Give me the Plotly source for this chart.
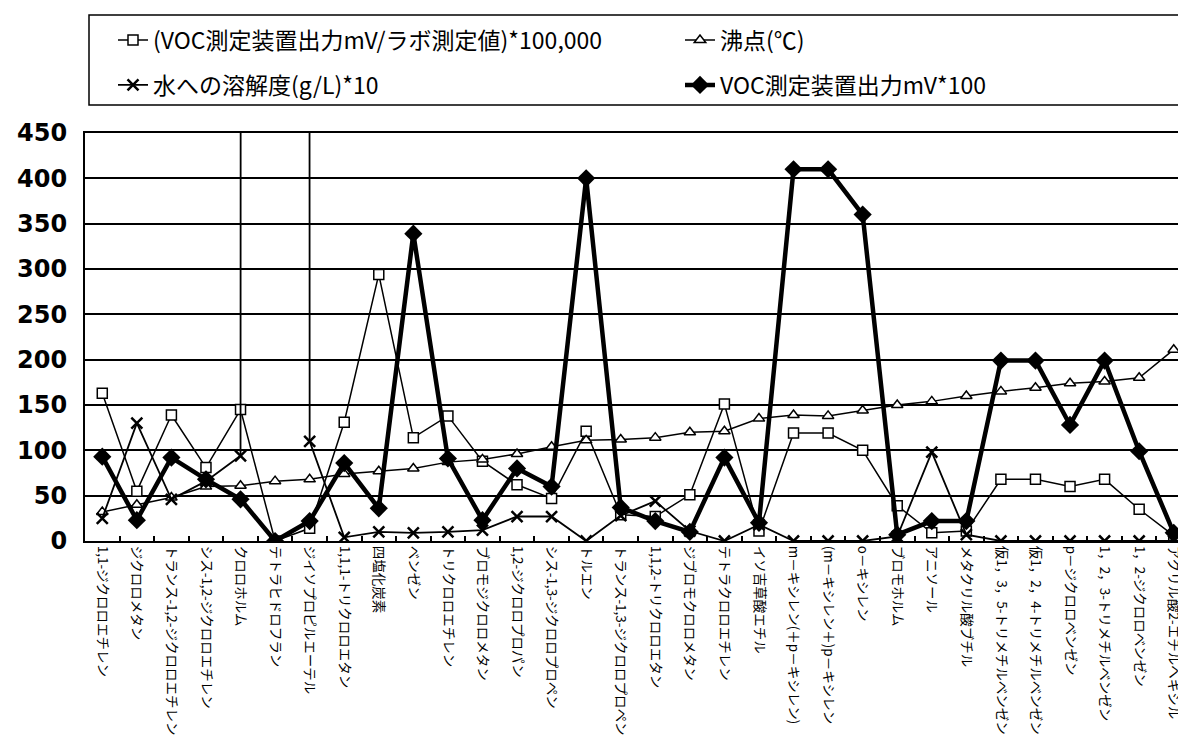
import plotly.graph_objects as go

categories = [
    "1,1-ジクロロエチレン", "ジクロロメタン", "トランス-1,2-ジクロロエチレン", "シス-1,2-ジクロロエチレン",
    "クロロホルム", "テトラヒドロフラン", "ジイソプロピルエーテル", "1,1,1-トリクロロエタン",
    "四塩化炭素", "ベンゼン", "トリクロロエチレン", "ブロモジクロロメタン",
    "1,2-ジクロロプロパン", "シス-1,3-ジクロロプロペン", "トルエン", "トランス-1,3-ジクロロプロペン",
    "1,1,2-トリクロロエタン", "ジブロモクロロメタン", "テトラクロロエチレン", "イソ吉草酸エチル",
    "m－キシレン(＋p－キシレン)", "(m－キシレン＋)p－キシレン", "o－キシレン", "ブロモホルム",
    "アニソール", "メタクリル酸ブチル", "仮1，3，5-トリメチルベンゼン", "仮1，2，4-トリメチルベンゼン",
    "p－ジクロロベンゼン", "1，2，3-トリメチルベンゼン", "1，2-ジクロロベンゼン", "アクリル酸2-エチルヘキシル",
]

ratio_x100000 = [163, 55, 139, 81, 145, 0, 14, 131, 294, 114, 138, 88, 62, 47, 121, 29,
                 27, 51, 151, 11, 119, 119, 100, 39, 9, 11, 68, 68, 60, 68, 35, 6]

boiling_point = [32, 40, 48, 60, 61, 66, 68, 74, 77, 80, 87, 90, 96, 104, 111, 112,
                 114, 120, 121, 135, 139, 138, 144, 150, 154, 160, 165, 169, 174, 176, 180, 211]

# THF is miscible with water: its value runs far off the top of the scale
solubility_x10 = [25, 130, 46, 66, 94, 100000, 110, 4, 10, 9, 10, 12, 27, 27, 0, 28,
                  44, 11, 0, 18, 0, 0, 0, 5, 98, 7, 0, 0, 0, 0, 0, 0]

voc_mv_x100 = [93, 23, 92, 68, 46, 0, 22, 86, 36, 339, 91, 23, 80, 60, 400, 37,
               22, 10, 92, 20, 410, 410, 360, 7, 22, 22, 199, 199, 128, 199, 99, 9]

y_ticks = [0, 50, 100, 150, 200, 250, 300, 350, 400, 450]

# layout in pixels
W, H = 1186, 735
L, R, T, B = 77, 1183, 125, 533
pw, ph = R - L, B - T


def px_x(x):
    return (x - L) / pw


def px_y(y):
    return (B - y) / ph


fig = go.Figure()

fig.add_trace(go.Scatter(
    x=categories, y=ratio_x100000, mode="lines+markers",
    name="(VOC測定装置出力mV/ラボ測定値)*100,000",
    line=dict(color="black", width=1.5),
    marker=dict(symbol="square", size=10, color="white", line=dict(color="black", width=1.5)),
    legend="legend",
))
fig.add_trace(go.Scatter(
    x=categories, y=boiling_point, mode="lines+markers",
    name="沸点(℃)",
    line=dict(color="black", width=1.5),
    marker=dict(symbol="triangle-up", size=10, color="white", line=dict(color="black", width=1.5)),
    legend="legend2",
))
fig.add_trace(go.Scatter(
    x=categories, y=solubility_x10, mode="lines+markers",
    name="水への溶解度(g/L)*10",
    line=dict(color="black", width=1.8),
    marker=dict(symbol="x-thin-open", size=11, color="black", line=dict(color="black", width=2.5)),
    legend="legend3",
))
fig.add_trace(go.Scatter(
    x=categories, y=voc_mv_x100, mode="lines+markers",
    name="VOC測定装置出力mV*100",
    line=dict(color="black", width=4.5),
    marker=dict(symbol="diamond", size=14, color="black"),
    legend="legend4",
))

legend_common = dict(
    orientation="h", xanchor="left", yanchor="middle",
    font=dict(family="Noto Sans CJK JP", size=23, color="black"),
    bgcolor="rgba(0,0,0,0)", itemwidth=30, borderwidth=0,
)

fig.update_layout(
    width=W, height=H,
    margin=dict(l=L, r=W - R, t=T, b=H - B, pad=0, autoexpand=False),
    paper_bgcolor="white", plot_bgcolor="white",
    showlegend=True,
    legend=dict(x=px_x(105), y=px_y(32), **legend_common),
    legend2=dict(x=px_x(672), y=px_y(32), **legend_common),
    legend3=dict(x=px_x(105), y=px_y(77), **legend_common),
    legend4=dict(x=px_x(672), y=px_y(77), **legend_common),
    xaxis=dict(
        type="category", range=[-0.5, len(categories) - 0.5],
        showline=True, linecolor="black", linewidth=2, mirror=True,
        ticks="inside", ticklen=5, tickcolor="black", tickwidth=1.5, tickson="boundaries",
        showgrid=False, tickangle=90, automargin=False,
        tickfont=dict(family="Noto Sans CJK JP", size=13.5, color="black"),
    ),
    yaxis=dict(
        range=[0, 450], tickvals=y_ticks, ticktext=[str(v) for v in y_ticks],
        showline=True, linecolor="black", linewidth=2, mirror=True,
        showgrid=True, gridcolor="black", gridwidth=1.5,
        ticks="", zeroline=False, ticklabelstandoff=11, automargin=False,
        tickfont=dict(family="DejaVu Sans", size=24, color="black", weight="bold"),
    ),
    shapes=[dict(
        type="rect", xref="paper", yref="paper",
        x0=px_x(81), x1=px_x(1192), y0=px_y(97), y1=px_y(7),
        line=dict(color="black", width=1.5), fillcolor="rgba(0,0,0,0)",
    )],
)

fig.write_html("out.html")
